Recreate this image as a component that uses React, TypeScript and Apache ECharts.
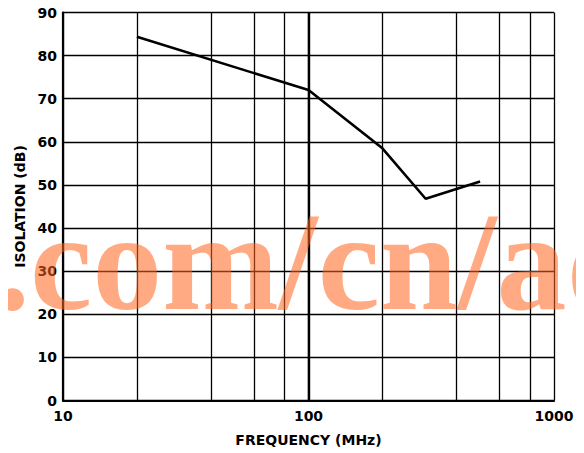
import React, { useEffect, useRef } from "react";
import * as echarts from "echarts";

const frequencyMHz = [20, 100, 200, 300, 500];
const isolationDb = [84.4, 72.0, 58.5, 46.8, 50.8];
const minorGridFreqs = [20, 40, 60, 80, 200, 400, 600, 800];
const majorGridFreqs = [100];
const xTitle = "FREQUENCY (MHz)";
const yTitle = "ISOLATION (dB)";
const watermark = ".com/cn/ad";

const FONT = "'DejaVu Sans', sans-serif";

export default function App() {
  const ref = useRef<HTMLDivElement>(null);
  useEffect(() => {
    if (!ref.current) return;
    const chart = echarts.init(ref.current, null, { renderer: "svg" });
    chart.setOption({
      animation: false,
      backgroundColor: "#fff",
      grid: { left: 63, top: 12.5, right: 30, bottom: 52.5, containLabel: false },
      xAxis: {
        type: "log",
        logBase: 10,
        min: 10,
        max: 1000,
        name: xTitle,
        nameLocation: "middle",
        nameGap: 32,
        nameTextStyle: { fontFamily: FONT, fontWeight: "bold", fontSize: 14, color: "#000" },
        axisLine: { show: true, lineStyle: { color: "#000", width: 2.2 } },
        axisTick: { show: false },
        axisLabel: {
          fontFamily: FONT,
          fontWeight: "bold",
          fontSize: 14,
          color: "#000",
          margin: 8,
          formatter: (v: number) => String(Math.round(v)),
        },
        splitLine: { show: true, lineStyle: { color: "#000", width: 1.3 } },
      },
      yAxis: {
        type: "value",
        min: 0,
        max: 90,
        interval: 10,
        name: yTitle,
        nameLocation: "middle",
        nameGap: 34,
        nameRotate: 90,
        nameTextStyle: { fontFamily: FONT, fontWeight: "bold", fontSize: 14, color: "#000" },
        axisLine: { show: true, lineStyle: { color: "#000", width: 2.2 } },
        axisTick: { show: false },
        axisLabel: { fontFamily: FONT, fontWeight: "bold", fontSize: 14, color: "#000", margin: 6 },
        splitLine: { show: true, lineStyle: { color: "#000", width: 1.3 } },
      },
      series: [
        {
          type: "line",
          data: frequencyMHz.map((f, i) => [f, isolationDb[i]]),
          showSymbol: false,
          lineStyle: { color: "#000", width: 2.6 },
          z: 5,
          markLine: {
            silent: true,
            symbol: "none",
            label: { show: false },
            lineStyle: { color: "#000", width: 1.3, type: "solid" },
            data: minorGridFreqs.map((v) => ({ xAxis: v })).concat(
              majorGridFreqs.map((v) => ({ xAxis: v, lineStyle: { color: "#000", width: 2.4, type: "solid" } }) as any)
            ),
          },
        },
      ],
      graphic: [
        {
          type: "text",
          left: -5,
          top: 191,
          z: 100,
          silent: true,
          style: {
            text: watermark,
            fontFamily: "'Liberation Serif', serif",
            fontWeight: "bold",
            fontSize: 140,
            fill: "rgba(255,100,30,0.55)",
          },
        },
      ],
    });
    return () => chart.dispose();
  }, []);
  return <div ref={ref} style={{ width: 584, height: 453, marginLeft: -8, marginTop: -8 }} />;
}
